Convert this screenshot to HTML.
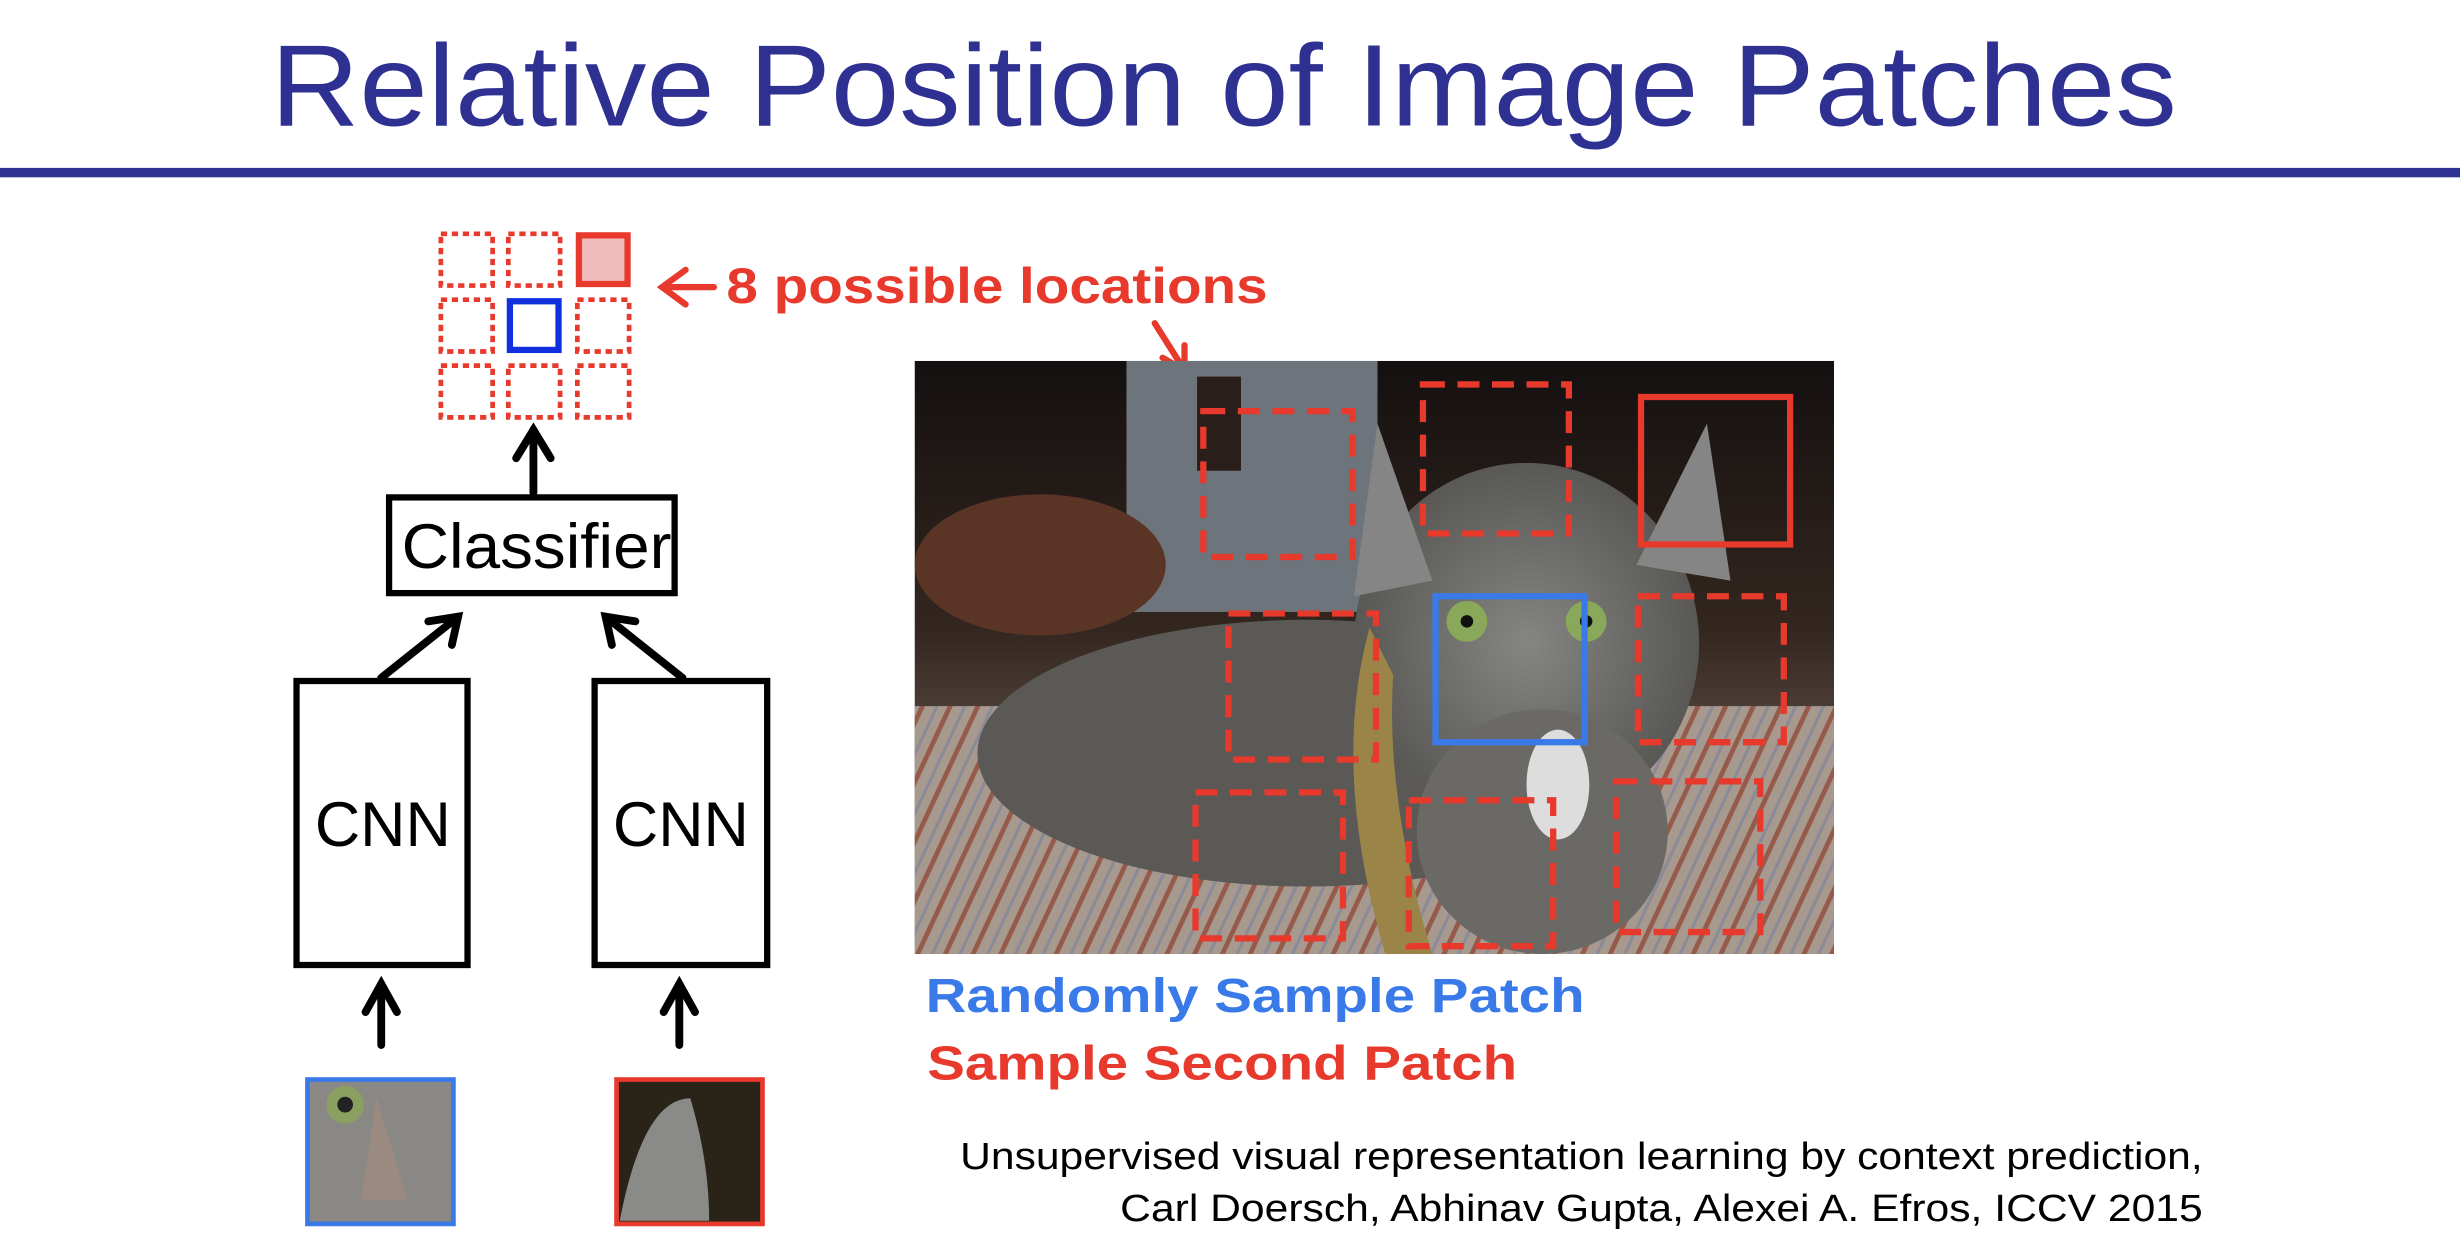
<!DOCTYPE html>
<html><head><meta charset="utf-8"><style>
html,body{margin:0;padding:0;background:#fff;}
svg{display:block;}
</style></head><body>
<svg width="2460" height="1260" viewBox="0 0 1568 803" preserveAspectRatio="none" xmlns="http://www.w3.org/2000/svg">
<defs>
<linearGradient id="bg" x1="0" y1="0" x2="0" y2="1">
<stop offset="0" stop-color="#141010"/><stop offset="0.45" stop-color="#33261f"/><stop offset="0.7" stop-color="#5e5048"/><stop offset="1" stop-color="#8a7a70"/>
</linearGradient>
<radialGradient id="cat" cx="0.5" cy="0.5" r="0.5">
<stop offset="0" stop-color="#858583"/><stop offset="1" stop-color="#595855"/>
</radialGradient>
<pattern id="stripe" width="16" height="16" patternUnits="userSpaceOnUse" patternTransform="rotate(25)">
<rect width="16" height="16" fill="#a8998f"/><rect width="3" height="16" fill="#955a4a"/><rect x="9" width="2" height="16" fill="#8a8a98"/>
</pattern>
</defs>
<rect width="1568" height="803" fill="#fff"/>
<text x="780" y="80" text-anchor="middle" font-family="Liberation Sans, sans-serif" font-size="74" fill="#2e3192" textLength="1215" lengthAdjust="spacingAndGlyphs">Relative Position of Image Patches</text>
<rect x="0" y="107" width="1568" height="6" fill="#2e3192"/>

<g fill="none" stroke="#e8392d" stroke-width="3" stroke-dasharray="4 3">
<rect x="281" y="149" width="33" height="33"/><rect x="324" y="149" width="33" height="33"/>
<rect x="281" y="191" width="33" height="33"/><rect x="368" y="191" width="33" height="33"/>
<rect x="281" y="233" width="33" height="33"/><rect x="324" y="233" width="33" height="33"/><rect x="368" y="233" width="33" height="33"/>
</g>
<rect x="369" y="150" width="31" height="31" fill="#f2bcbc" stroke="#e8392d" stroke-width="4"/>
<rect x="325" y="192" width="31" height="31" fill="#fff" stroke="#1030e0" stroke-width="4"/>
<g stroke="#e8392d" stroke-width="4" fill="none" stroke-linecap="round">
<line x1="455" y1="183" x2="422" y2="183"/><polyline points="437,172 422,183 437,194"/>
<line x1="736" y1="206" x2="755" y2="236"/><polyline points="755,220 755,236 741,228"/>
</g>
<text x="463" y="193" font-family="Liberation Sans, sans-serif" font-weight="bold" font-size="32" fill="#e8392d" textLength="345" lengthAdjust="spacingAndGlyphs">8 possible locations</text>

<g stroke="#000" stroke-width="4" fill="none">
<rect x="248" y="317" width="182" height="61" fill="#fff"/>
<rect x="189" y="434" width="109" height="181" fill="#fff"/>
<rect x="379" y="434" width="110" height="181" fill="#fff"/>
</g>
<g stroke="#000" stroke-width="5" fill="none" stroke-linecap="round">
<line x1="340" y1="314" x2="340" y2="274"/><polyline points="329,292 340,274 351,292"/>
<line x1="243" y1="432" x2="292" y2="393"/><polyline points="273,396 292,393 288,411"/>
<line x1="435" y1="432" x2="386" y2="393"/><polyline points="405,396 386,393 390,411"/>
<line x1="243" y1="666" x2="243" y2="627"/><polyline points="233,645 243,627 253,645"/>
<line x1="433" y1="666" x2="433" y2="627"/><polyline points="423,645 433,627 443,645"/>
</g>
<text x="256" y="362" font-family="Liberation Sans, sans-serif" font-size="40" fill="#000" textLength="172" lengthAdjust="spacingAndGlyphs">Classifier</text>
<text x="244" y="539" text-anchor="middle" font-family="Liberation Sans, sans-serif" font-size="40" fill="#000">CNN</text>
<text x="434" y="539" text-anchor="middle" font-family="Liberation Sans, sans-serif" font-size="40" fill="#000">CNN</text>

<rect x="196" y="688" width="93" height="92" fill="#8a8884" stroke="#3a7ae8" stroke-width="3"/>
<circle cx="220" cy="704" r="12" fill="#8aa060"/><circle cx="220" cy="704" r="5" fill="#222"/>
<path d="M240 700 L260 765 L230 765 Z" fill="#9a8a80"/>
<rect x="393" y="688" width="93" height="92" fill="#2a2418" stroke="#e8392d" stroke-width="3"/>
<path d="M395 778 Q410 700 440 700 Q452 740 452 778 Z" fill="#8a8a88"/>

<svg x="583" y="230" width="586" height="378" viewBox="0 0 586 378">
<rect width="586" height="378" fill="url(#bg)"/>
<rect x="135" y="0" width="160" height="160" fill="#6e747c"/>
<rect x="180" y="10" width="28" height="60" fill="#2a1e1a"/>
<ellipse cx="80" cy="130" rx="80" ry="45" fill="#5a3424"/>
<rect x="0" y="220" width="586" height="158" fill="url(#stripe)"/>
<ellipse cx="250" cy="250" rx="210" ry="85" fill="#5a5956"/>
<ellipse cx="390" cy="180" rx="110" ry="115" fill="url(#cat)"/>
<polygon points="295,40 330,140 280,150" fill="#858585"/>
<polygon points="505,40 520,140 460,130" fill="#858585"/>
<ellipse cx="400" cy="300" rx="80" ry="78" fill="#6a6966"/>
<ellipse cx="410" cy="270" rx="20" ry="35" fill="#ddd"/>
<circle cx="352" cy="166" r="13" fill="#8aa85a"/><circle cx="352" cy="166" r="4" fill="#111"/>
<circle cx="428" cy="166" r="13" fill="#8aa85a"/><circle cx="428" cy="166" r="4" fill="#111"/>
<path d="M290 170 Q265 260 300 378 L330 378 Q300 280 305 200 Z" fill="#9a8448"/>
<g fill="none" stroke="#e8392d" stroke-width="4" stroke-dasharray="14 8">
<rect x="184" y="32" width="95" height="93"/>
<rect x="324" y="15" width="93" height="95"/>
<rect x="200" y="161" width="94" height="93"/>
<rect x="461" y="150" width="93" height="93"/>
<rect x="179" y="275" width="94" height="93"/>
<rect x="315" y="280" width="92" height="93"/>
<rect x="447" y="268" width="92" height="96"/>
</g>
<rect x="463" y="23" width="95" height="94" fill="none" stroke="#e8392d" stroke-width="4"/>
<rect x="332" y="150" width="95" height="93" fill="none" stroke="#3a7ae8" stroke-width="4"/>
</svg>

<text x="590" y="645" font-family="Liberation Sans, sans-serif" font-weight="bold" font-size="31" fill="#3a7ae8" textLength="420" lengthAdjust="spacingAndGlyphs">Randomly Sample Patch</text>
<text x="591" y="688" font-family="Liberation Sans, sans-serif" font-weight="bold" font-size="31" fill="#e8392d" textLength="376" lengthAdjust="spacingAndGlyphs">Sample Second Patch</text>
<text x="1404" y="745" text-anchor="end" font-family="Liberation Sans, sans-serif" font-size="24" fill="#000" textLength="792" lengthAdjust="spacingAndGlyphs">Unsupervised visual representation learning by context prediction,</text>
<text x="1404" y="778" text-anchor="end" font-family="Liberation Sans, sans-serif" font-size="24" fill="#000" textLength="690" lengthAdjust="spacingAndGlyphs">Carl Doersch, Abhinav Gupta, Alexei A. Efros, ICCV 2015</text>
</svg>
</body></html>
